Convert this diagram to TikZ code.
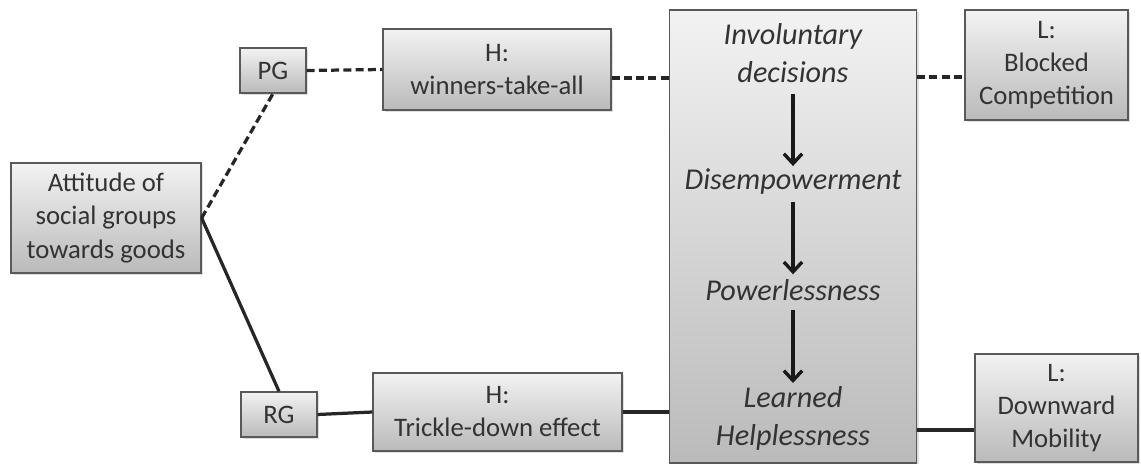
\documentclass[tikz,border=0pt]{standalone}
\usepackage{fontspec}
\setmainfont{Carlito}
\usetikzlibrary{arrows.meta,shadows}
\tikzset{
  gbox/.style={draw=black!65, line width=0.9pt, top color=black!5, bottom color=black!27,
    drop shadow={shadow xshift=1.5pt, shadow yshift=-1.5pt, opacity=0.25},
    align=center, text=black!80, inner sep=0pt, font=\fontsize{19pt}{23.5pt}\selectfont},
  stagetext/.style={align=center, text=black!80, inner sep=2pt, font=\fontsize{21.5pt}{27pt}\selectfont\itshape},
  solidlink/.style={line width=2.3pt, black!85},
  dashlink/.style={line width=2.3pt, black!85, dash pattern=on 5.7pt off 3pt},
  steparrow/.style={line width=2.4pt, black!90, -{Straight Barb[length=7pt, width=13pt, line width=2.4pt]}}
}
\begin{document}
\begin{tikzpicture}[x=0.025cm, y=-0.025cm]
                        \useasboundingbox (0,0) rectangle (1141,464);

                        % Drawing boxes on the left
                        \node [gbox, minimum width=4.75cm, minimum height=2.75cm] (att) at (106,218) {Attitude of\\social groups\\towards goods};%
                        \node [gbox, minimum width=1.65cm, minimum height=1.125cm] (pg) at (273,70.5) {PG};%
                        \node [gbox, minimum width=1.9cm, minimum height=1.125cm] (rg) at (279,414.5) {RG};%

                        % Drawing hypothesis boxes
                        \node [gbox, minimum width=5.7cm, minimum height=2.025cm] (hwin) at (497,69.5) {H:\\winners-take-all};%
                        \node [gbox, minimum width=6.225cm, minimum height=1.95cm] (htrick) at (497.5,412) {H:\\Trickle-down effect};%

                        % Drawing big box with the stages
                        \node [gbox, minimum width=6.175cm, minimum height=11.325cm] (big) at (793,236.5) {};%
                        \node [stagetext] (invol) at (793,53) {Involuntary\\decisions};%
                        \node [stagetext] (disemp) at (793,182) {Disempowerment};%
                        \node [stagetext] (powerl) at (793,290) {Powerlessness};%
                        \node [stagetext] (lhelp) at (793,418) {Learned\\Helplessness};%

                        % Drawing boxes on the right
                        \node [gbox, minimum width=4.075cm, minimum height=2.75cm] (lblock) at (1046.5,65) {L:\\Blocked\\Competition};%
                        \node [gbox, minimum width=4.075cm, minimum height=2.7cm] (ldown) at (1056.5,408) {L:\\Downward\\Mobility};%

                        % Drawing arrows between the stages
                        \draw [steparrow, shorten <=0.2cm] (invol.south) -- (disemp.north);%
                        \draw [steparrow, shorten <=0.1cm, shorten >=0.05cm] (disemp.south) -- (powerl.north);%
                        \draw [steparrow, shorten <=0.15cm] (powerl.south) -- (lhelp.north);%

                        % Drawing dashed links
                        \draw [dashlink] (att.east) -- (pg.south);%
                        \draw [dashlink] (pg.east) -- (hwin.west);%
                        \path ([yshift=-0.21cm]hwin.east) coordinate (hwinout);%
                        \draw [dashlink] (hwinout) -- (hwinout -| big.west);%
                        \path ([yshift=-0.3cm]lblock.west) coordinate (lblockin);%
                        \draw [dashlink] (lblockin -| big.east) -- (lblockin);%

                        % Drawing solid links
                        \draw [solidlink] (att.east) -- (rg.north);%
                        \draw [solidlink] (rg.east) -- (htrick.west);%
                        \draw [solidlink] (htrick.east) -- (htrick.east -| big.west);%
                        \path ([yshift=-0.55cm]ldown.west) coordinate (ldownin);%
                        \draw [solidlink] (ldownin -| big.east) -- (ldownin);%
                    \end{tikzpicture}
\end{document}
